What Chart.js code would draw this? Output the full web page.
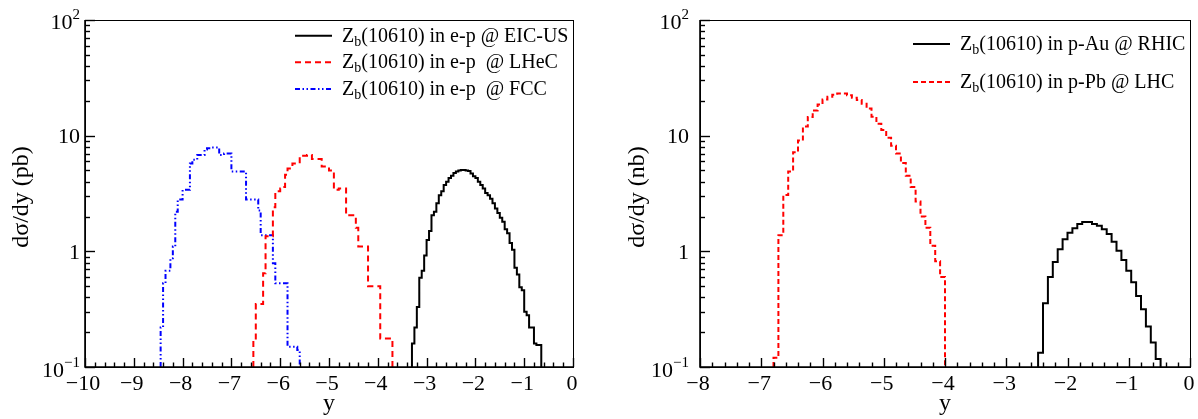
<!DOCTYPE html>
<html>
<head>
<meta charset="utf-8">
<script src="https://cdn.jsdelivr.net/npm/chart.js@4.4.1/dist/chart.umd.min.js"></script>
<style>
  body { margin: 0; background: #fff; }
  #wrap { position: relative; width: 1198px; height: 419px; }
  .panel { position: absolute; top: 0; width: 599px; height: 419px; }
</style>
</head>
<body>
<div id="wrap">
  <div class="panel" style="left:0"><canvas id="leftChart" width="599" height="419"></canvas></div>
  <div class="panel" style="left:599px"><canvas id="rightChart" width="599" height="419"></canvas></div>
</div>
<script>
// ---- data ----
// left panel: e-p colliders, bins of 0.05 in y, dsigma/dy in pb
const eicStart = -3.30;
const eicValues = [
  0.16, 0.22, 0.33, 0.59, 0.68, 0.92, 1.25, 1.5, 2.05, 2.2,
  2.6, 3.05, 3.3, 3.75, 4.0, 4.3, 4.5, 4.75, 4.9, 5.0,
  5.05, 5.05, 5.0, 4.95, 4.7, 4.45, 4.3, 4.0, 3.75, 3.5,
  3.2, 3.05, 2.85, 2.6, 2.35, 2.15, 1.95, 1.8, 1.55, 1.43,
  1.18, 1.03, 0.72, 0.63, 0.49, 0.46, 0.30, 0.28, 0.22, 0.22,
  0.16, 0.155, 0.155
];
const lhecStart = -6.55;
const lhecValues = [
  0.17, 0.35, 0.35, 0.35, 0.645, 1.35, 1.35, 1.35, 2.4, 3.3,
  3.3, 3.5, 3.6, 4.6, 5.2, 5.2, 5.75, 5.75, 5.75, 6.7,
  6.7, 6.7, 6.8, 6.8, 6.3, 6.3, 6.3, 6.3, 5.4, 5.4,
  5.4, 5.0, 5.0, 3.4, 3.4, 3.5, 3.5, 3.5, 2.05, 2.05,
  2.05, 2.05, 1.6, 1.1, 1.1, 1.1, 1.1, 0.5, 0.5, 0.5,
  0.5, 0.5, 0.176, 0.176, 0.176, 0.176, 0.176
];
const fccStart = -8.45;
const fccValues = [
  0.22, 0.53, 0.68, 0.68, 0.87, 1.1, 2.2, 2.8, 2.8, 3.4,
  3.4, 3.4, 5.75, 6.2, 6.2, 6.8, 6.8, 6.8, 7.6, 7.8,
  7.8, 7.9, 7.9, 7.9, 6.8, 6.8, 7.0, 7.0, 7.0, 4.9,
  4.9, 4.9, 4.9, 4.9, 4.9, 2.8, 2.8, 2.8, 2.8, 2.8,
  2.25, 1.38, 1.38, 1.38, 1.38, 1.38, 0.79, 0.53, 0.53, 0.53,
  0.53, 0.53, 0.15, 0.15, 0.15, 0.15, 0.14
];
const leftBinWidth = 0.05;

// right panel: p-A colliders, bins of 0.08 in y, dsigma/dy in nb
const rhicStart = -2.48;
const rhicValues = [
  0.133, 0.355, 0.6, 0.81, 1.04, 1.27, 1.45, 1.58, 1.72, 1.79,
  1.79, 1.72, 1.66, 1.55, 1.41, 1.21, 1.01, 0.84, 0.68, 0.54,
  0.41, 0.316, 0.224, 0.163, 0.117
];
const lhcStart = -6.80;
const lhcValues = [
  0.12, 1.38, 3.07, 4.9, 7.2, 9.1, 12.0, 14.5, 16.5, 18.6,
  20.5, 21.7, 22.6, 23.2, 23.2, 22.4, 21.3, 20.3, 18.9, 17.2,
  14.6, 12.7, 11.2, 9.6, 8.2, 7.0, 5.8, 4.5, 3.6, 2.7,
  2.0, 1.6, 1.12, 0.82, 0.6
];
const rightBinWidth = 0.08;

const leftLabels = [
  "in e-p @ EIC-US",
  "in e-p  @ LHeC",
  "in e-p  @ FCC"
];
const rightLabels = [
  "in p-Au @ RHIC",
  "in p-Pb @ LHC"
];

const yMin = 0.1;
const yMax = 100;
const FONT = "'Liberation Serif', 'Times New Roman', serif";

// turn bin contents into a closed step outline sitting on the y floor
function histPoints(start, width, values) {
  const pts = [{ x: start, y: yMin }];
  values.forEach((v, i) => pts.push({ x: start + i * width, y: v }));
  const end = start + values.length * width;
  pts.push({ x: end, y: values[values.length - 1] });
  pts.push({ x: end, y: yMin });
  return pts;
}

function histDataset(label, start, width, values, color, dash) {
  return {
    label: label,
    data: histPoints(start, width, values),
    borderColor: color,
    borderWidth: 2,
    borderDash: dash,
    stepped: true,
    pointRadius: 0,
    fill: false,
    tension: 0,
  };
}

function drawPow(ctx, base, exp, xr, yc) {
  ctx.font = "15px " + FONT;
  const ew = ctx.measureText(exp).width;
  ctx.textAlign = "right";
  ctx.textBaseline = "alphabetic";
  ctx.fillText(exp, xr, yc);
  ctx.font = "22px " + FONT;
  ctx.fillText(base, xr - ew, yc + 10);
}

// ROOT-like frame: ticks pointing inwards, labels, titles, legend
const rootFrame = {
  id: "rootFrame",
  afterDraw(chart, args, o) {
    const { ctx, chartArea: a } = chart;
    const x = chart.scales.x;
    const y = chart.scales.y;
    ctx.save();
    ctx.fillStyle = "#000";
    ctx.strokeStyle = "#000";

    // frame
    ctx.lineWidth = 1;
    ctx.strokeRect(a.left + 0.5, a.top + 0.5, a.right - a.left, a.bottom - a.top);
    ctx.lineWidth = 1.6;
    ctx.beginPath();
    ctx.moveTo(a.left, a.top);
    ctx.lineTo(a.left, a.bottom);
    ctx.lineTo(a.right, a.bottom);
    ctx.stroke();

    // x ticks
    ctx.lineWidth = 1.4;
    const nMinor = Math.round((o.xMax - o.xMin) / 0.2);
    for (let k = 0; k <= nMinor; k++) {
      const v = o.xMin + k * 0.2;
      const px = Math.round(x.getPixelForValue(v)) + 0.5;
      const len = k % 5 === 0 ? 9 : 4.5;
      ctx.beginPath();
      ctx.moveTo(px, a.bottom);
      ctx.lineTo(px, a.bottom - len);
      ctx.stroke();
    }
    ctx.font = "22px " + FONT;
    ctx.textAlign = "center";
    ctx.textBaseline = "alphabetic";
    for (let v = o.xMin; v <= o.xMax; v++) {
      const txt = v < 0 ? "\u2212" + Math.abs(v) : String(v);
      ctx.fillText(txt, x.getPixelForValue(v) - (v < 0 ? 2 : 1), a.bottom + 23);
    }

    // y ticks
    for (let d = -1; d <= 2; d++) {
      for (let m = 1; m <= 9; m++) {
        const v = m * Math.pow(10, d);
        if (v > yMax * 1.0001) break;
        const py = Math.round(y.getPixelForValue(v)) + 0.5;
        const len = m === 1 ? 10 : 5;
        ctx.beginPath();
        ctx.moveTo(a.left, py);
        ctx.lineTo(a.left + len, py);
        ctx.stroke();
      }
    }
    const xr = a.left - o.labelGap;
    drawPow(ctx, "10", "\u22121", xr, y.getPixelForValue(0.1));
    ctx.font = "22px " + FONT;
    ctx.textAlign = "right";
    ctx.fillText("1", xr, y.getPixelForValue(1) + 7.5);
    ctx.fillText("10", xr, y.getPixelForValue(10) + 7.5);
    drawPow(ctx, "10", "2", xr, y.getPixelForValue(100) - 1);

    // axis titles
    ctx.font = "24px " + FONT;
    ctx.textAlign = "center";
    ctx.textBaseline = "middle";
    ctx.fillText("y", (a.left + a.right) / 2, 404);
    ctx.save();
    ctx.translate(o.yTitleX, 197);
    ctx.rotate(-Math.PI / 2);
    ctx.fillText(o.yTitle, 0, 0);
    ctx.restore();

    // legend
    chart.data.datasets.forEach((ds, i) => {
      const ly = o.legendY[i];
      ctx.strokeStyle = ds.borderColor;
      ctx.lineWidth = 2;
      ctx.setLineDash(ds.borderDash || []);
      ctx.beginPath();
      ctx.moveTo(o.legendX, ly);
      ctx.lineTo(o.legendX + 37, ly);
      ctx.stroke();
      ctx.setLineDash([]);
      let tx = o.legendX + 47;
      const base = ly + 6;
      ctx.textAlign = "left";
      ctx.textBaseline = "alphabetic";
      ctx.font = "20px " + FONT;
      ctx.fillText("Z", tx, base);
      tx += ctx.measureText("Z").width;
      ctx.font = "14px " + FONT;
      ctx.fillText("b", tx, base + 4);
      tx += ctx.measureText("b").width;
      ctx.font = "20px " + FONT;
      ctx.fillText("(10610) " + o.labels[i], tx, base);
    });
    ctx.restore();
  },
};

function makeChart(id, datasets, frame, padding) {
  return new Chart(document.getElementById(id).getContext("2d"), {
    type: "line",
    data: { datasets: datasets },
    options: {
      responsive: false,
      animation: false,
      layout: { padding: padding },
      plugins: {
        legend: { display: false },
        tooltip: { enabled: false },
        rootFrame: frame,
      },
      scales: {
        x: { type: "linear", min: frame.xMin, max: frame.xMax, display: false },
        y: { type: "logarithmic", min: yMin, max: yMax, display: false },
      },
    },
    plugins: [rootFrame],
  });
}

const leftChart = makeChart(
  "leftChart",
  [
    histDataset("EIC-US", eicStart, leftBinWidth, eicValues, "#000000", []),
    histDataset("LHeC", lhecStart, leftBinWidth, lhecValues, "#ff0000", [6, 4]),
    histDataset("FCC", fccStart, leftBinWidth, fccValues, "#0000ff", [5, 2.5, 1.5, 2.5, 1.5, 2.5]),
  ],
  {
    xMin: -10, xMax: 0, labelGap: 5,
    yTitle: "d\u03c3/dy (pb)", yTitleX: 22,
    legendX: 295, legendY: [35.7, 62.3, 89], labels: leftLabels,
  },
  { left: 85, right: 26, top: 20, bottom: 52 }
);

const rightChart = makeChart(
  "rightChart",
  [
    histDataset("RHIC", rhicStart, rightBinWidth, rhicValues, "#000000", []),
    histDataset("LHC", lhcStart, rightBinWidth, lhcValues, "#ff0000", [5, 3]),
  ],
  {
    xMin: -8, xMax: 0, labelGap: 11,
    yTitle: "d\u03c3/dy (nb)", yTitleX: 39,
    legendX: 314, legendY: [44, 82], labels: rightLabels,
  },
  { left: 101, right: 8, top: 20, bottom: 52 }
);
</script>
</body>
</html>
